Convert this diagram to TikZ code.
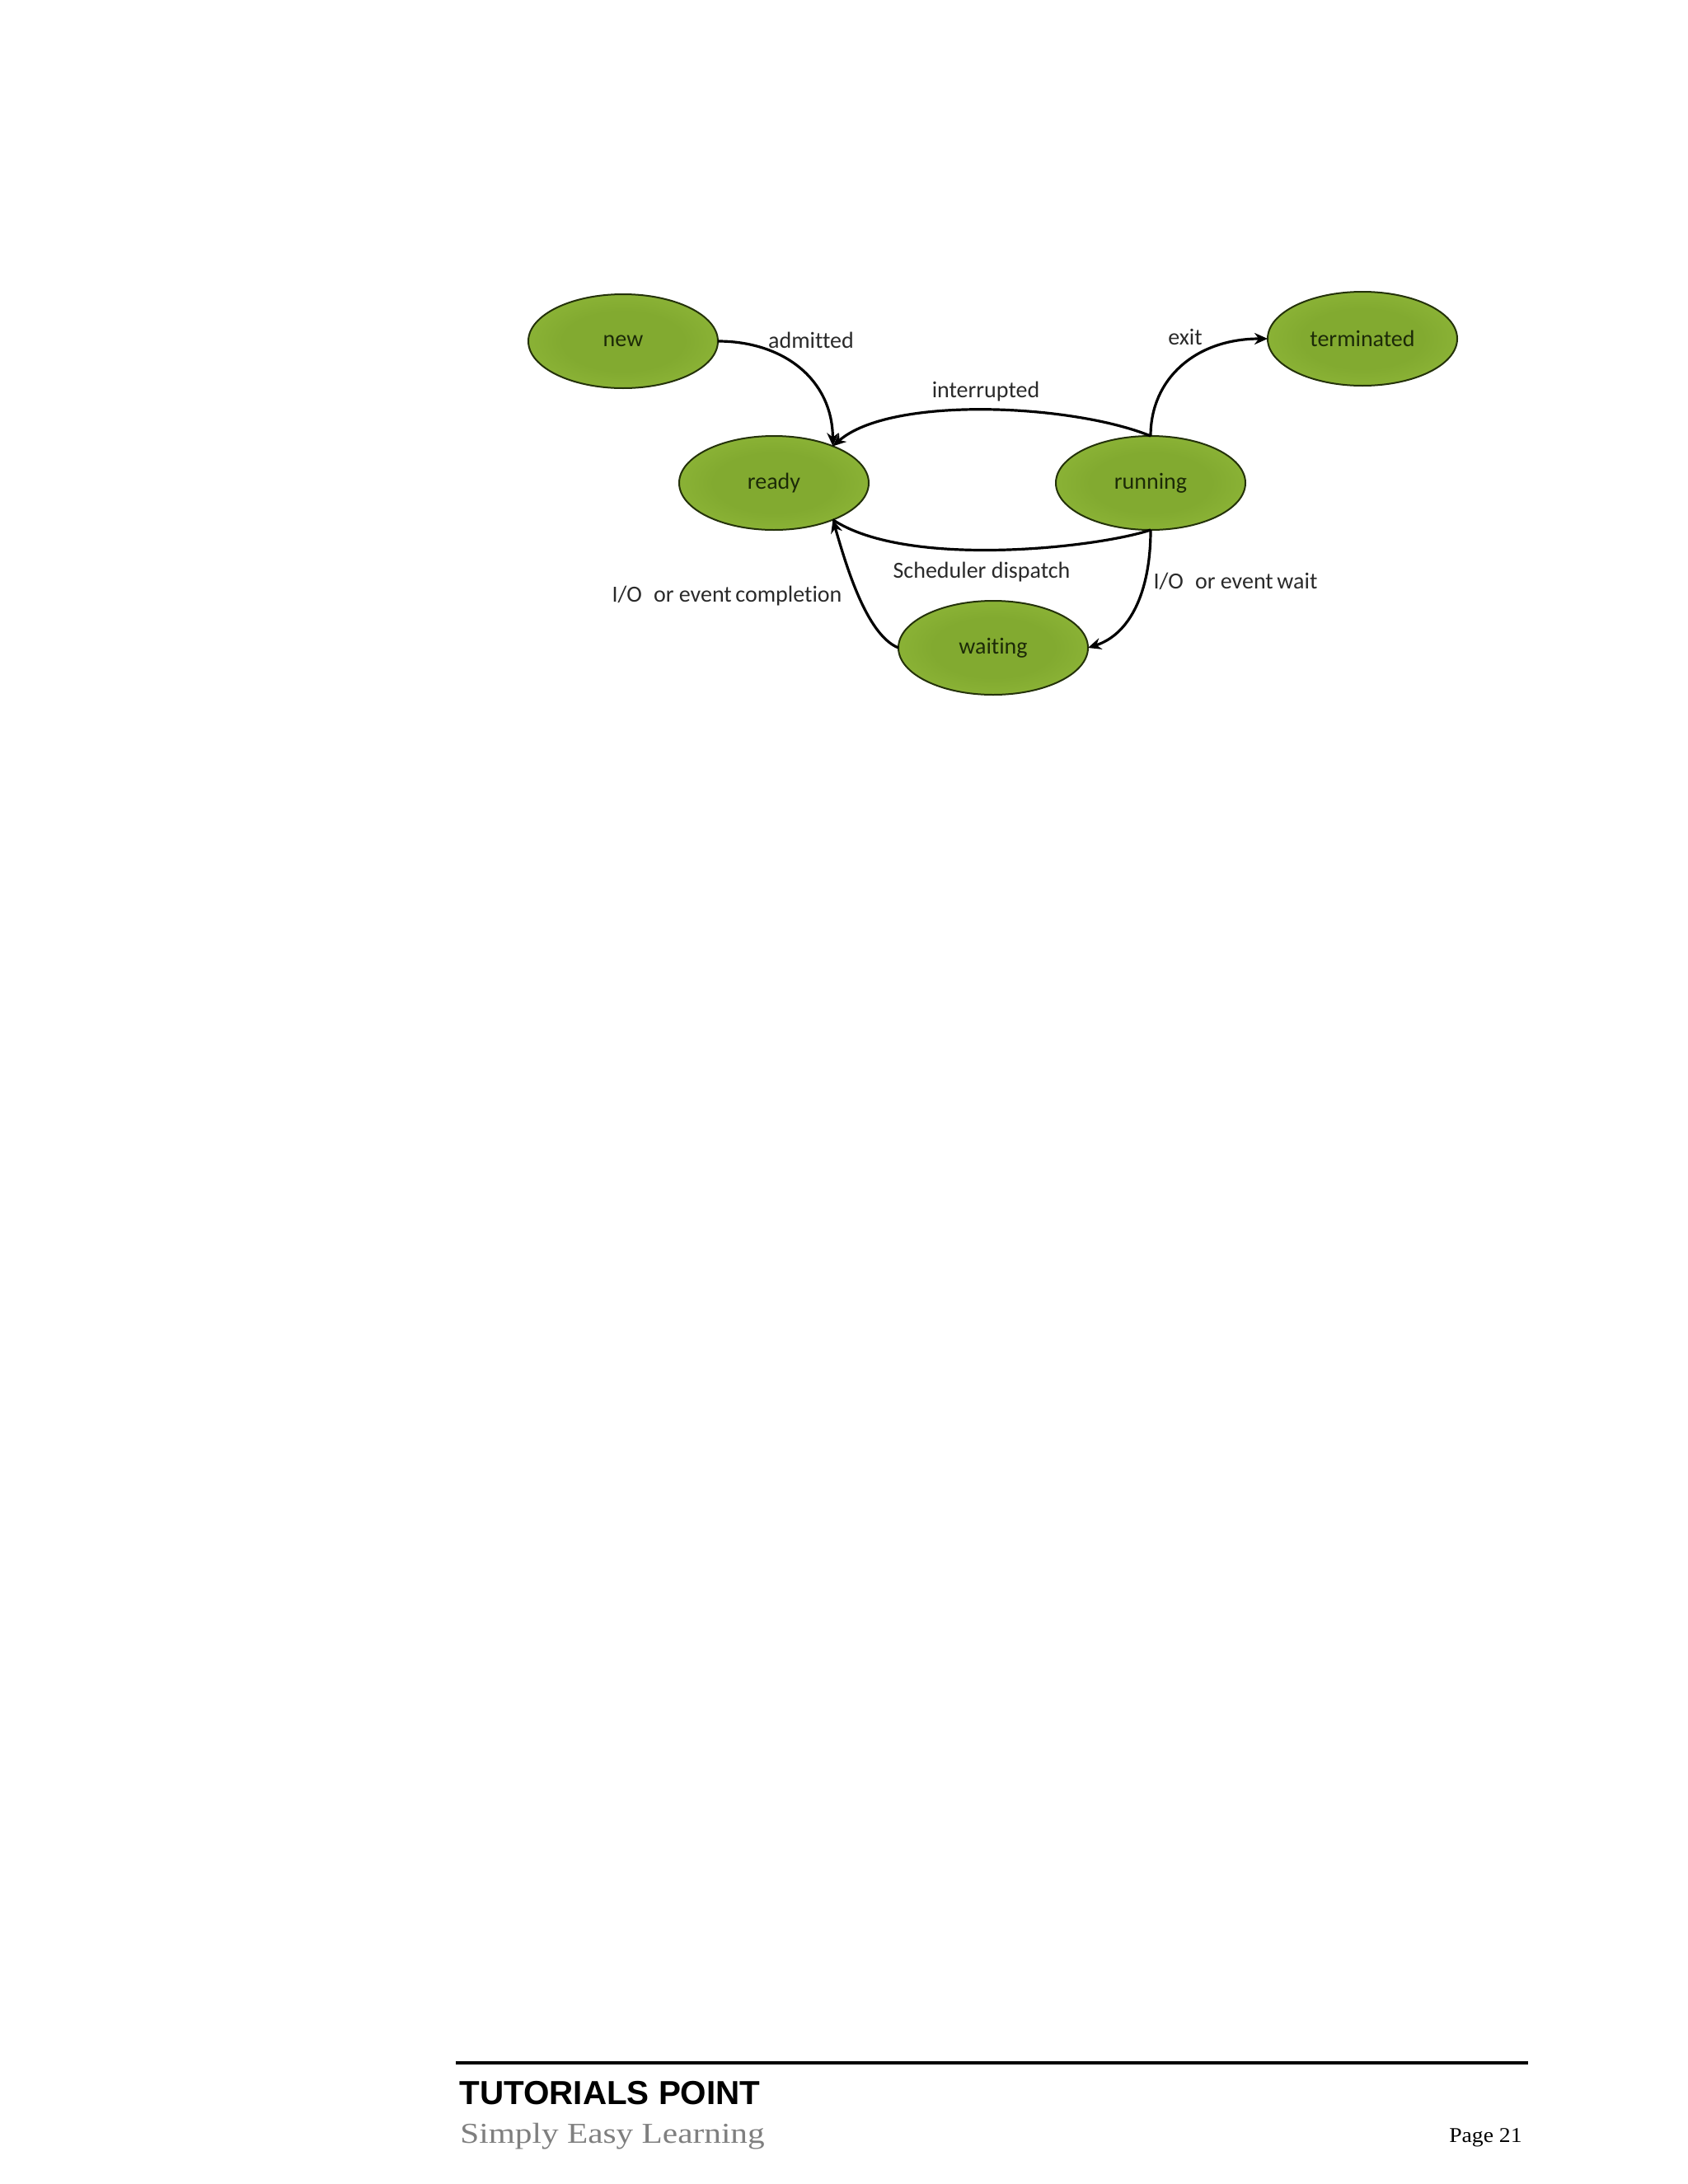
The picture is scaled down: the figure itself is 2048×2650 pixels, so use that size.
\documentclass[tikz,border=0pt]{standalone}
\usepackage{fontspec}
\setmainfont[Ligatures=NoCommon]{Carlito}
\newfontfamily\footsans{Liberation Sans}
\newfontfamily\footserif[FakeStretch=1.18]{Liberation Serif}
\newfontfamily\pageserif[FakeStretch=1.08]{Liberation Serif}
\usetikzlibrary{shapes.geometric,arrows.meta}
\definecolor{ellin}{HTML}{82AA30}
\definecolor{ellout}{HTML}{A0C844}
\definecolor{ellborder}{HTML}{24320A}
\definecolor{nodetext}{HTML}{1C2A08}
\definecolor{labeltext}{HTML}{2A2A2A}
\definecolor{footgray}{HTML}{7F7F7F}
\pgfdeclareradialshading{ellshade}{\pgfpoint{0bp}{0bp}}{color(0bp)=(ellin); color(16bp)=(ellin); color(50bp)=(ellout)}
\tikzset{
  state/.style={ellipse, draw=ellborder, line width=1pt, shading=ellshade,
    minimum width=115pt, minimum height=57pt, inner sep=0pt, outer sep=0pt,
    text=nodetext, font=\fontsize{14}{16}\selectfont},
  lbl/.style={text=labeltext, font=\fontsize{14}{16}\selectfont, inner sep=0pt},
  arr/.style={line width=1.6pt, black, -{Stealth[length=8pt,width=7pt]}},
  plain/.style={line width=1.6pt, black}
}
\begin{document}
\begin{tikzpicture}[x=0.5pt,y=-0.5pt]
\useasboundingbox (0,0) rectangle (2048,2650);
\fill[white] (0,0) rectangle (2048,2650);

% states
\node[state] (new) at (756,414) {new};
\node[state] (term) at (1653,411) {terminated};
\node[state] (ready) at (939,586) {ready};
\node[state] (run) at (1396,586) {running};
\node[state] (wait) at (1205,786) {waiting};

% transitions
\draw[arr] (new.east) .. controls (950,414) and (1010,460) .. (ready.32);
\draw[arr] (run.north) .. controls (1300,490) and (1080,480) .. (ready.32);
\draw[arr] (run.north) .. controls (1396,460) and (1450,411) .. (term.west);
\draw[plain] (run.south) .. controls (1330,665) and (1100,690) .. (ready.-32);
\draw[arr] (run.south) .. controls (1396,720) and (1370,770) .. (wait.east);
\draw[arr] (wait.west) .. controls (1050,770) and (1025,680) .. (ready.-32);

% labels
\node[lbl] (ladm) at (984,413) {admitted};
\node[lbl] (lint) at (1196,475) {interrupted};
\node[lbl] (lexit) at (1438,409) {exit};
\node[lbl] (lsch) at (1191,694) {Scheduler dispatch};
\node[lbl] (lwait) at (1499,705) {I/O\enspace or event\,wait};
\node[lbl] (lcomp) at (882,723) {I/O\enspace or event\,completion};

% footer
\coordinate (fl) at (553,2503);
\coordinate (fr) at (1854,2503);
\draw[line width=2pt, black] (fl) -- (fr);
\node[anchor=base west, inner sep=0pt, font=\footsans\bfseries\fontsize{20.2}{24}\selectfont] (tp) at (557,2553) {TUTORIALS POINT};
\node[anchor=base west, inner sep=0pt, text=footgray, font=\footserif\fontsize{17.5}{20}\selectfont] (sel) at (558,2600) {Simply Easy Learning};
\node[anchor=base east, inner sep=0pt, font=\pageserif\fontsize{12.8}{15}\selectfont] (pg) at (1847,2599) {Page 21};
\end{tikzpicture}
\end{document}
